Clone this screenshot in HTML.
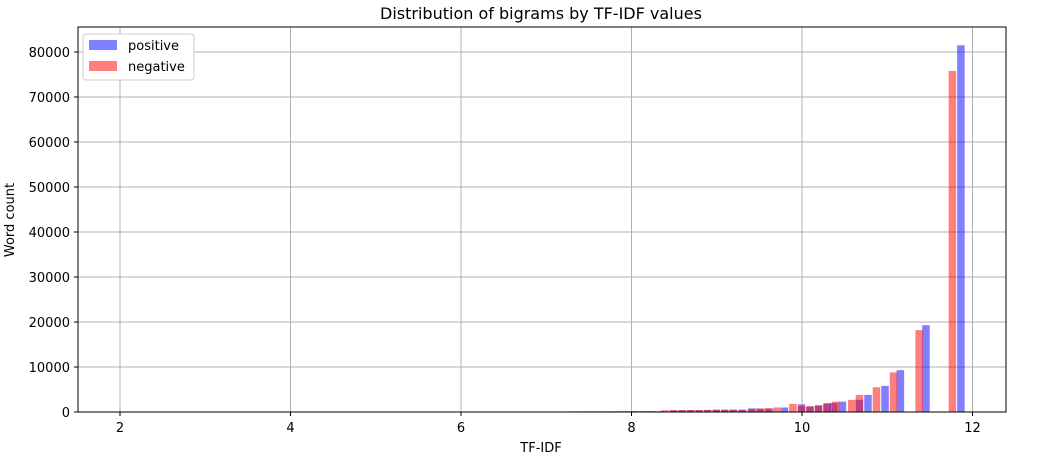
<!DOCTYPE html>
<html><head><meta charset="utf-8"><style>
body{margin:0;background:#fff;font-family:"Liberation Sans","DejaVu Sans",sans-serif;}
svg text{font-family:"DejaVu Sans","Liberation Sans",sans-serif;}
</style></head><body>
<svg id="chart" width="1058" height="455" xmlns="http://www.w3.org/2000/svg"></svg>
<script>
const xTicks=[2,4,6,8,10,12];
const yTicks=[0,10000,20000,30000,40000,50000,60000,70000,80000];
const negX=[7.1,7.2,7.3,7.4,7.5,7.6,7.7,7.8,7.9,8.0,8.1,8.2,8.35,8.45,8.55,8.65,8.75,8.85,8.95,9.05,9.15,9.26,9.36,9.46,9.56,9.66,9.85,9.95,10.05,10.15,10.25,10.35,10.54,10.63,10.83,11.03,11.33,11.72];
const negCounts=[100,120,130,140,150,150,150,150,160,160,170,180,400,420,450,450,430,480,500,500,520,500,650,800,850,1000,1800,1300,1300,1400,2000,2300,2700,3800,5500,8800,18200,75800];
const posX=[7.2,7.3,7.4,7.5,7.6,7.7,7.8,7.9,8.0,8.1,8.2,8.3,8.45,8.55,8.65,8.75,8.85,8.95,9.05,9.15,9.25,9.37,9.47,9.57,9.75,9.95,10.05,10.15,10.25,10.33,10.43,10.63,10.73,10.93,11.11,11.41,11.82];
const posCounts=[120,130,140,150,150,150,160,160,160,170,180,200,350,380,400,400,450,500,520,520,500,800,700,750,1000,1700,1200,1500,1800,2000,2300,2700,3800,5800,9300,19300,81500];
const NS="http://www.w3.org/2000/svg";
const svg=document.getElementById('chart');
const L=78,R=1006,T=27,B=412;
const xs=v=>120+(v-2)*85.25;
const ys=v=>B-v*0.0045;
function el(t,a,txt){const e=document.createElementNS(NS,t);for(const k in a)e.setAttribute(k,a[k]);if(txt!==undefined)e.textContent=txt;svg.appendChild(e);return e;}
xTicks.forEach(t=>{
 const g=el('line',{x1:xs(t),x2:xs(t),y1:T,y2:B,stroke:'#b0b0b0','stroke-width':1});
 
 el('line',{x1:xs(t),x2:xs(t),y1:B,y2:B+4,stroke:'#000'});
 const l=el('text',{x:xs(t),y:B+20,'text-anchor':'middle','font-size':13},t);
 
});
yTicks.forEach(t=>{
 const g=el('line',{x1:L,x2:R,y1:ys(t),y2:ys(t),stroke:'#b0b0b0','stroke-width':1});
 
 el('line',{x1:L-4,x2:L,y1:ys(t),y2:ys(t),stroke:'#000'});
 const l=el('text',{x:L-8,y:ys(t)+5,'text-anchor':'end','font-size':13},t);
 
});
const bw=0.088*85.25;
posX.forEach((x,i)=>{
 const r=el('rect',{x:xs(x),y:ys(posCounts[i]),width:bw,height:B-ys(posCounts[i]),fill:'rgba(0,0,255,0.5)'});
 
});
negX.forEach((x,i)=>{
 const r=el('rect',{x:xs(x),y:ys(negCounts[i]),width:bw,height:B-ys(negCounts[i]),fill:'rgba(255,0,0,0.5)'});
 
});
el('rect',{x:L,y:T,width:R-L,height:B-T,fill:'none',stroke:'#000','stroke-width':1});
const ti=el('text',{x:541,y:19,'text-anchor':'middle','font-size':16},'Distribution of bigrams by TF-IDF values');

const xl=el('text',{x:541,y:452,'text-anchor':'middle','font-size':13},'TF-IDF');

const yl=el('text',{x:14,y:220,'text-anchor':'middle','font-size':13,transform:'rotate(-90 14 220)'},'Word count');

const lg=el('rect',{x:83,y:34,width:111,height:46,rx:3,fill:'#fff',stroke:'#ccc'});

const p1=el('rect',{x:89,y:40,width:28,height:10,fill:'rgba(0,0,255,0.5)'});

const t1=el('text',{x:128,y:50,'font-size':13},'positive');

const p2=el('rect',{x:89,y:61,width:28,height:10,fill:'rgba(255,0,0,0.5)'});

const t2=el('text',{x:128,y:71,'font-size':13},'negative');

</script>
</body></html>
